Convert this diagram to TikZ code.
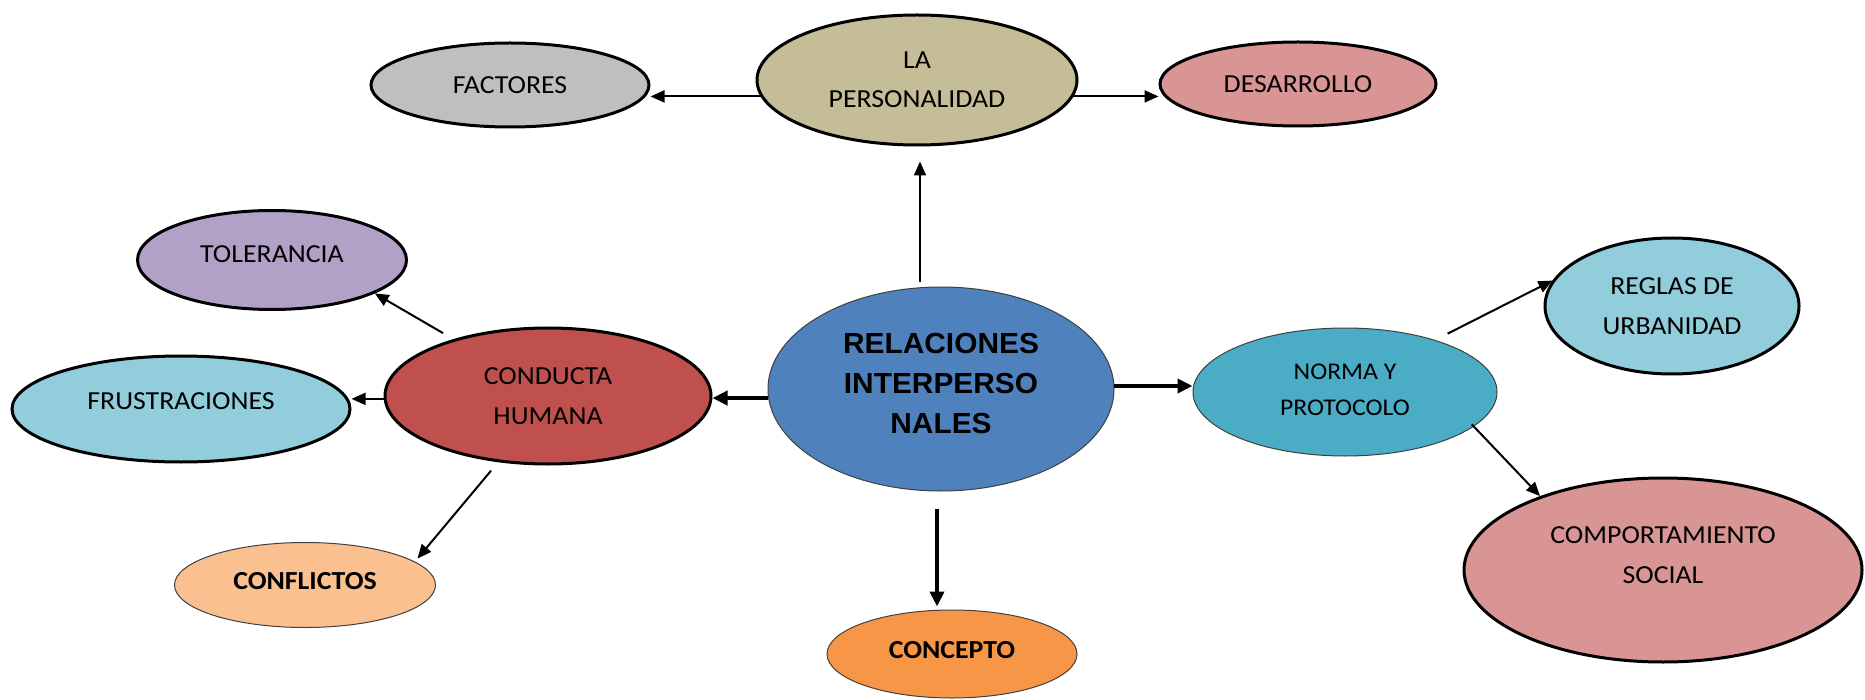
\documentclass[tikz,border=0pt]{standalone}
\usepackage{fontspec}
\setmainfont{Carlito}[FakeStretch=1.07]
\newfontfamily\arialfont{Liberation Sans}[FakeStretch=1.03]
\usetikzlibrary{shapes.geometric,arrows.meta,calc}
\newcommand\mydepth[1]{\rule[-#1]{0pt}{#1}}
\definecolor{cfac}{HTML}{BFBFBF}
\definecolor{cper}{HTML}{C4BD97}
\definecolor{cdes}{HTML}{D99594}
\definecolor{ctol}{HTML}{B2A1C7}
\definecolor{cfru}{HTML}{92CDDC}
\definecolor{ccon}{HTML}{C0504D}
\definecolor{crel}{HTML}{4F81BD}
\definecolor{cnor}{HTML}{4BACC6}
\definecolor{creg}{HTML}{92CDDC}
\definecolor{ccom}{HTML}{D99594}
\definecolor{ccfl}{HTML}{FAC090}
\definecolor{ccpt}{HTML}{F79646}
\begin{document}
\begin{tikzpicture}[x=1pt,y=-1pt,
  ell/.style={ellipse, inner sep=0pt, align=center, font=\fontsize{26}{40}\selectfont},
  thickell/.style={ell, draw=black, line width=3pt},
  thinell/.style={ell, draw=black!75, line width=1pt},
  arr/.style={line width=2pt, -{Triangle[length=14pt,width=12pt]}},
  bigarr/.style={line width=4pt, -{Triangle[length=15pt,width=14pt]}}
]
\useasboundingbox (0,0) rectangle (1865,700);

% nodes
\node[thickell, fill=cfac, minimum width=278pt, minimum height=84pt] (fac) at (510,85) {FACTORES};
\node[thickell, fill=cper, minimum width=320pt, minimum height=130pt, font=\fontsize{26}{39}\selectfont] (per) at (917,80) {LA\\PERSONALIDAD};
\node[thickell, fill=cdes, minimum width=276pt, minimum height=84pt] (des) at (1298,84) {DESARROLLO};
\node[thickell, fill=ctol, minimum width=269pt, minimum height=99pt] (tol) at (272,260) {TOLERANCIA\mydepth{12pt}};
\node[thickell, fill=cfru, minimum width=338pt, minimum height=106pt] (fru) at (181,409) {FRUSTRACIONES\mydepth{16pt}};
\node[thickell, fill=ccon, minimum width=326pt, minimum height=136pt] (con) at (548,396) {CONDUCTA\\HUMANA};
\node[thinell, fill=crel, minimum width=346pt, minimum height=204pt, font=\arialfont\bfseries\fontsize{29}{40}\selectfont] (rel) at (941,389) {RELACIONES\\INTERPERSO\\NALES\mydepth{11pt}};
\node[thinell, fill=cnor, minimum width=304pt, minimum height=128pt, font=\fontsize{24}{36}\selectfont] (nor) at (1345,392) {NORMA Y\\PROTOCOLO\mydepth{4pt}};
\node[thickell, fill=creg, minimum width=254pt, minimum height=136pt] (reg) at (1672,306) {REGLAS DE\\URBANIDAD};
\node[thickell, fill=ccom, minimum width=398pt, minimum height=184pt] (com) at (1663,570) {COMPORTAMIENTO\\SOCIAL\mydepth{30pt}};
\node[thinell, fill=ccfl, minimum width=261pt, minimum height=85pt, font=\bfseries\fontsize{26}{40}\selectfont] (cfl) at (305,585) {CONFLICTOS\mydepth{8pt}};
\node[thinell, fill=ccpt, minimum width=250pt, minimum height=88pt, font=\bfseries\fontsize{26}{40}\selectfont] (cpt) at (952,654) {CONCEPTO\mydepth{8pt}};

% connectors
\draw[arr] (per.186) -- (per.186 -| fac.east);
\draw[arr] (per.-6) -- (per.-6 -| des.west);
\draw[arr, shorten <=4pt, shorten >=15pt] ($(rel.north -| per.south)+(3,0)$) -- ($(per.south)+(3,0)$);
\draw[bigarr] (rel.183) -- (rel.183 -| con.east);
\draw[arr] (con.181) -- (con.181 -| fru.east);
\draw[arr, shorten <=12pt] (con.149) -- (tol.-18);
\draw[arr, shorten <=11pt, shorten >=4pt] (con.233) -- (cfl.12);
\draw[bigarr] (rel.1) -- (rel.1 -| nor.west);
\draw[bigarr, shorten <=17pt, shorten >=3pt] ($(rel.south)+(-4,0)$) -- ($(rel.south |- cpt.north)+(-4,0)$);
\draw[arr, shorten <=14pt] (nor.30) -- (reg.168);
\draw[arr, shorten <=-3pt] (nor.-15) -- (com.149);
\end{tikzpicture}
\end{document}
